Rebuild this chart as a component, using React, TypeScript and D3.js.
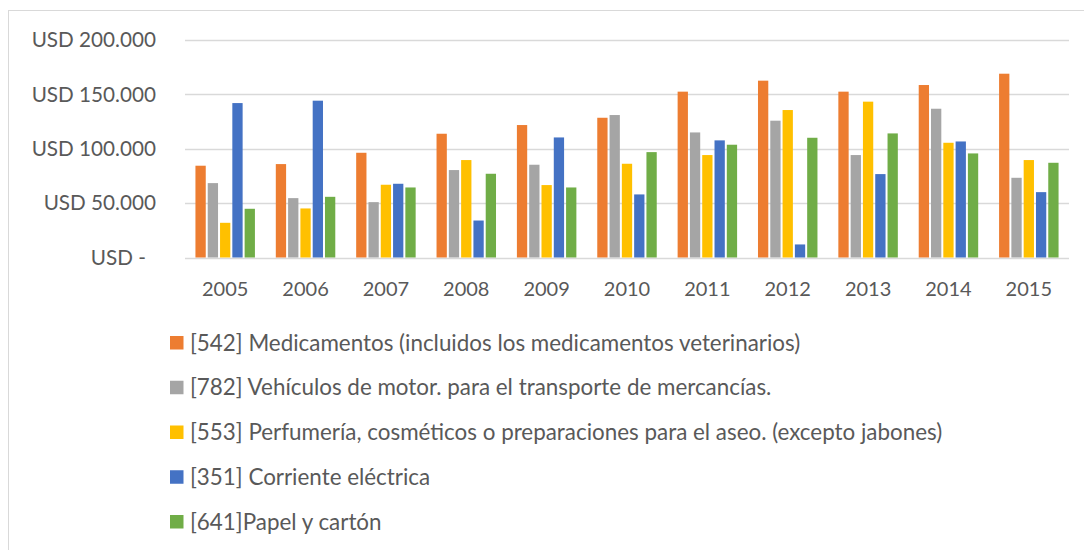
import React, { useEffect, useRef } from 'react';
import * as d3 from 'd3';

// years on the x axis
const years = ['2005', '2006', '2007', '2008', '2009', '2010', '2011', '2012', '2013', '2014', '2015'];

// series names, in legend order
const seriesNames = [
  '[542] Medicamentos (incluidos los medicamentos veterinarios)',
  '[782] Vehículos de motor. para el transporte de mercancías.',
  '[553] Perfumería, cosméticos o preparaciones para el aseo. (excepto jabones)',
  '[351] Corriente eléctrica',
  '[641]Papel y cartón',
];

const seriesColors = ['#ED7D31', '#A5A5A5', '#FFC000', '#4472C4', '#70AD47'];

// values in USD
const medicamentos = [84400, 85900, 96300, 113800, 121800, 128500, 152500, 162600, 152500, 158600, 169000];
const vehiculos = [68400, 54600, 50900, 80400, 85300, 131000, 115000, 125800, 94200, 136800, 73300];
const perfumeria = [31900, 45100, 66900, 89600, 66600, 86200, 94200, 135600, 143300, 105500, 89600];
const corriente = [142000, 144200, 67800, 34000, 110400, 58000, 107700, 12000, 76700, 106700, 60100];
const papel = [44800, 55800, 64400, 77000, 64400, 96900, 103700, 110100, 114100, 95700, 87100];

const yTicks = [0, 50000, 100000, 150000, 200000];

const seriesValues = [medicamentos, vehiculos, perfumeria, corriente, papel];

function App() {
  const chartRef = useRef<SVGSVGElement>(null);

  useEffect(() => {
    const width = 1084,
      height = 550;
    const textColor = '#595959';
    const gridColor = '#D9D9D9';
    const font = 'Lato, "Open Sans", sans-serif';

    const svg = d3.select(chartRef.current);
    svg.selectAll('*').remove();

    // chart frame
    svg.append('rect')
      .attr('x', 8.5)
      .attr('y', 10.5)
      .attr('width', width + 20)
      .attr('height', height + 20)
      .attr('fill', 'white')
      .attr('stroke', gridColor)
      .attr('stroke-width', 1);

    const x = d3.scaleBand<string>()
      .domain(years)
      .range([185, 1069]);

    const groupW = x.bandwidth() * 0.765;
    const xInner = d3.scaleBand<number>()
      .domain(d3.range(seriesNames.length))
      .range([(x.bandwidth() - groupW) / 2, (x.bandwidth() + groupW) / 2]);

    const y = d3.scaleLinear()
      .domain([0, 200000])
      .range([257.5, 40]);

    const locale = d3.formatLocale({ decimal: ',', thousands: '.', grouping: [3], currency: ['USD ', ''] });
    const fmt = locale.format(',.0f');

    // gridlines
    svg.append('g')
      .selectAll('line')
      .data(yTicks)
      .enter().append('line')
      .attr('x1', 185)
      .attr('x2', 1069)
      .attr('y1', d => Math.round(y(d)) + 0.5)
      .attr('y2', d => Math.round(y(d)) + 0.5)
      .attr('stroke', gridColor)
      .attr('stroke-width', 1.3);

    // y labels
    svg.append('g')
      .selectAll('text')
      .data(yTicks)
      .enter().append('text')
      .attr('x', d => (d === 0 ? 146 : 156))
      .attr('y', d => y(d))
      .attr('dy', '0.35em')
      .attr('text-anchor', 'end')
      .style('font-family', font)
      .style('font-size', '20.7px')
      .attr('fill', textColor)
      .text(d => (d === 0 ? 'USD -' : 'USD ' + fmt(d)));

    // bars
    const groups = svg.append('g')
      .selectAll('g')
      .data(seriesValues)
      .enter().append('g')
      .attr('fill', (d, i) => seriesColors[i]);

    groups.each(function (vals, si) {
      d3.select(this)
        .selectAll('rect')
        .data(vals)
        .enter().append('rect')
        .attr('x', (d, i) => (x(years[i]) as number) + (xInner(si) as number) + 1)
        .attr('width', xInner.bandwidth() - 2)
        .attr('y', d => y(d))
        .attr('height', d => y(0) - y(d));
    });

    // x labels
    svg.append('g')
      .selectAll('text')
      .data(years)
      .enter().append('text')
      .attr('x', d => (x(d) as number) + x.bandwidth() / 2)
      .attr('y', 296)
      .attr('text-anchor', 'middle')
      .style('font-family', font)
      .style('font-size', '20px')
      .attr('fill', textColor)
      .text(d => d);

    // legend
    const legend = svg.append('g')
      .selectAll('g')
      .data(seriesNames)
      .enter().append('g')
      .attr('transform', (d, i) => 'translate(170,' + (342.7 + i * 44.75) + ')');

    legend.append('rect')
      .attr('x', 0)
      .attr('y', -6.7)
      .attr('width', 13.5)
      .attr('height', 13.5)
      .attr('fill', (d, i) => seriesColors[i]);

    legend.append('text')
      .attr('x', 20)
      .attr('y', 0)
      .attr('dy', '0.35em')
      .style('font-family', font)
      .style('font-size', '22.4px')
      .attr('fill', textColor)
      .text(d => d);
  }, []);

  return (
    <svg
      ref={chartRef}
      width={1084}
      height={550}
      style={{ position: 'absolute', left: 0, top: 0 }}
    />
  );
}

export default App;
